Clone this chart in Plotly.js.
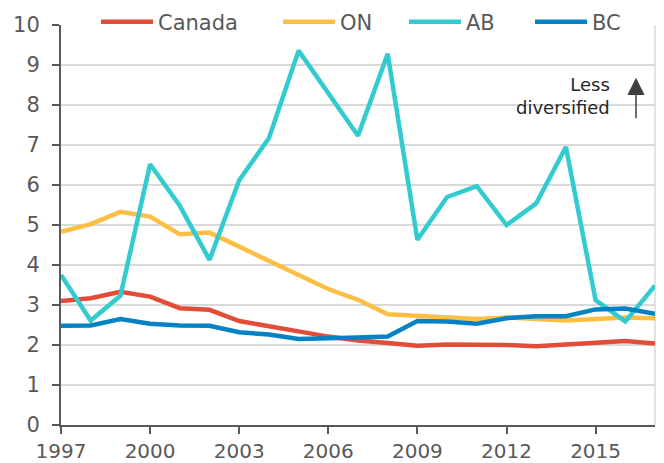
<!DOCTYPE html>
<html>
<head>
<meta charset="utf-8">
<script src="https://cdn.plot.ly/plotly-3.0.1.min.js"></script>
<style>html,body{margin:0;padding:0;background:#fff;}#chart{width:664px;height:463px;}</style>
</head>
<body>
<div id="chart"></div>
<script>
var years = [1997,1998,1999,2000,2001,2002,2003,2004,2005,2006,2007,2008,2009,2010,2011,2012,2013,2014,2015,2016,2017];
var canada = [3.10,3.17,3.33,3.21,2.92,2.88,2.60,2.48,2.34,2.21,2.11,2.05,1.98,2.01,2.01,2.00,1.97,2.01,2.06,2.10,2.04];
var on = [4.83,5.02,5.33,5.21,4.77,4.81,4.46,4.09,3.75,3.40,3.13,2.77,2.73,2.71,2.65,2.69,2.65,2.61,2.65,2.69,2.67];
var ab = [3.75,2.61,3.23,6.52,5.48,4.13,6.12,7.17,9.36,8.29,7.23,9.28,4.63,5.70,5.97,5.00,5.54,6.95,3.12,2.59,3.48];
var bc = [2.48,2.49,2.65,2.53,2.49,2.48,2.32,2.26,2.15,2.18,2.19,2.21,2.60,2.59,2.53,2.67,2.72,2.72,2.89,2.91,2.78];
var seriesNames = ["Canada","ON","AB","BC"];
var xTicks = [1997,2000,2003,2006,2009,2012,2015];

var colors = ["#E34C38","#FDBF43","#31CBD0","#0582C3"];
var legendIds = ["legend","legend2","legend3","legend4"];
var legendX = [0.0589, 0.3653, 0.5774, 0.7896];
var allSeries = [canada, on, ab, bc];
var traces = allSeries.map(function(s,i){
  return {x: years, y: s, name: seriesNames[i], type: "scatter", mode: "lines",
          legend: legendIds[i], line: {color: colors[i], width: 4.5}};
});

var txt = "#595959";
var layout = {
  width: 664, height: 463,
  margin: {l: 61, r: 9, t: 25, b: 38, autoexpand: false},
  paper_bgcolor: "#fff", plot_bgcolor: "#fff",
  font: {family: "DejaVu Sans, Verdana, sans-serif", size: 21, color: txt},
  showlegend: true,
  xaxis: {range: [1997, 2017], tickvals: xTicks, ticktext: xTicks.map(String),
          showgrid: false, zeroline: false, showline: true, linecolor: "#595959", linewidth: 2,
          ticks: "outside", ticklen: 7, tickwidth: 2, tickcolor: "#595959",
          ticklabelstandoff: 0,
          tickfont: {size: 20, color: txt}, fixedrange: true},
  yaxis: {range: [0, 10], dtick: 1, tick0: 0, showgrid: true, gridcolor: "#D9D9D9", gridwidth: 1.5,
          zeroline: false, showline: true, linecolor: "#595959", linewidth: 2,
          ticks: "outside", ticklen: 7, tickwidth: 2, tickcolor: "#595959",
          ticklabelstandoff: 8,
          tickfont: {size: 21, color: txt}, fixedrange: true},
  shapes: [{type: "line", xref: "paper", yref: "paper", x0: 1, x1: 1, y0: 0, y1: 1,
            line: {color: "#D9D9D9", width: 1.5}, layer: "below"}],
  annotations: [
    {xref: "paper", yref: "y", x: 0.927, y: 8.22, xanchor: "right", yanchor: "middle", align: "right",
     text: "Less<br>diversified", showarrow: false, font: {size: 18, color: "#262626"}},
    {xref: "paper", yref: "y", x: 0.968, y: 8.68, text: "", showarrow: true,
     ax: 0, ay: 42, arrowhead: 2, arrowsize: 2.3, arrowwidth: 1.5, arrowcolor: "#404040"}
  ]
};
legendIds.forEach(function(id, i){
  layout[id] = {orientation: "h", x: legendX[i], xanchor: "left", y: 1.0075, yanchor: "middle",
                bgcolor: "rgba(0,0,0,0)", font: {size: 21, color: txt}, itemwidth: 52};
});
Plotly.newPlot("chart", traces, layout, {displayModeBar: false, staticPlot: true});
</script>
</body>
</html>
